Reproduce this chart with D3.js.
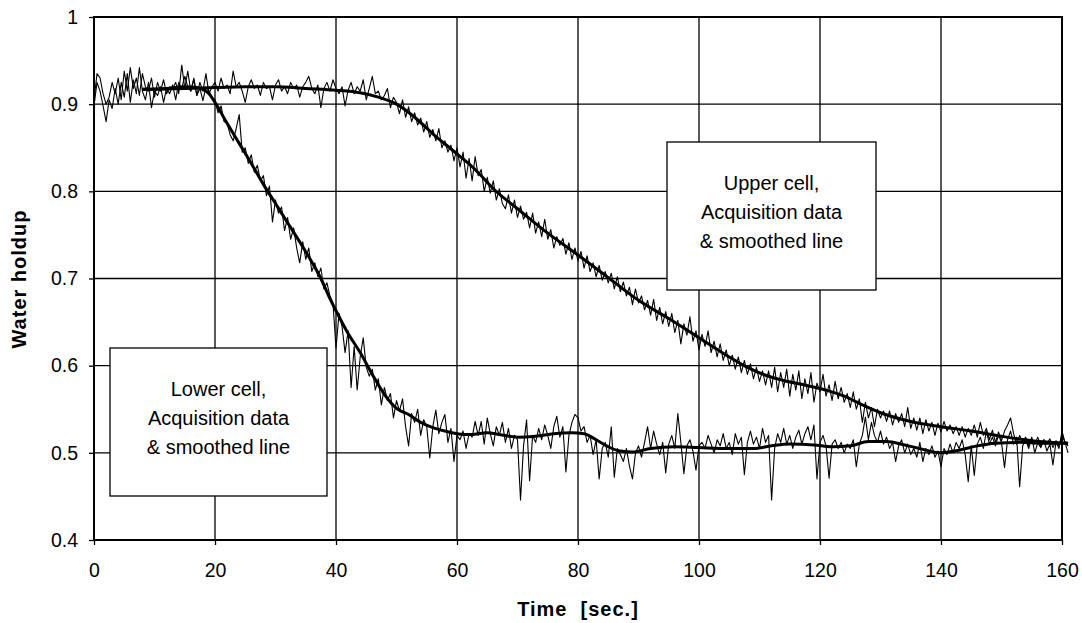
<!DOCTYPE html>
<html>
<head>
<meta charset="utf-8">
<script src="https://cdn.jsdelivr.net/npm/d3@7"></script>
<style>
  body { margin: 0; background: #fff; }
  text { font-family: "Liberation Sans", Arial, sans-serif; fill: #000; }
</style>
</head>
<body>
<div id="chart"></div>
<script>
// raw acquisition samples, every 0.5 s from 0 to 161 s (one row = 10 s)
const rawStep = 0.5;
const upperRaw = [
  0.905,0.935,0.930,0.912,0.900,0.908,0.925,0.912,0.930,0.905,0.938,0.915,0.942,0.918,0.930,0.910,0.935,0.920,0.915,0.930,
  0.908,0.925,0.915,0.928,0.912,0.920,0.918,0.925,0.912,0.945,0.918,0.938,0.915,0.930,0.910,0.925,0.915,0.935,0.912,0.920,
  0.925,0.915,0.930,0.918,0.922,0.912,0.938,0.920,0.925,0.915,0.902,0.920,0.928,0.918,0.922,0.910,0.925,0.918,0.920,0.905,
  0.922,0.928,0.915,0.920,0.912,0.925,0.918,0.922,0.908,0.920,0.925,0.932,0.918,0.912,0.922,0.896,0.918,0.925,0.915,0.928,
  0.918,0.912,0.920,0.898,0.916,0.925,0.912,0.920,0.915,0.928,0.905,0.918,0.932,0.912,0.915,0.905,0.910,0.918,0.896,0.908,
  0.902,0.889,0.905,0.885,0.897,0.880,0.890,0.876,0.884,0.868,0.880,0.862,0.871,0.858,0.872,0.850,0.858,0.845,0.853,0.835,
  0.850,0.828,0.845,0.815,0.838,0.812,0.840,0.818,0.825,0.800,0.816,0.798,0.812,0.790,0.803,0.786,0.780,0.796,0.775,0.790,
  0.770,0.783,0.768,0.776,0.758,0.775,0.752,0.765,0.748,0.768,0.745,0.756,0.735,0.748,0.738,0.746,0.728,0.741,0.722,0.735,
  0.720,0.731,0.712,0.726,0.708,0.718,0.702,0.715,0.698,0.708,0.695,0.706,0.688,0.702,0.685,0.696,0.680,0.690,0.670,0.688,
  0.672,0.680,0.664,0.675,0.658,0.676,0.652,0.667,0.648,0.662,0.645,0.660,0.638,0.652,0.625,0.648,0.635,0.656,0.628,0.640,
  0.618,0.636,0.622,0.640,0.615,0.628,0.610,0.625,0.606,0.618,0.600,0.612,0.596,0.610,0.592,0.606,0.590,0.602,0.585,0.598,
  0.582,0.594,0.578,0.594,0.575,0.598,0.570,0.592,0.575,0.596,0.565,0.590,0.572,0.594,0.562,0.585,0.568,0.592,0.558,0.580,
  0.570,0.590,0.565,0.578,0.560,0.582,0.562,0.575,0.558,0.568,0.552,0.570,0.550,0.562,0.535,0.558,0.540,0.552,0.530,0.550,
  0.540,0.548,0.536,0.548,0.532,0.545,0.535,0.545,0.530,0.552,0.528,0.540,0.526,0.540,0.522,0.538,0.525,0.535,0.520,0.534,
  0.524,0.536,0.525,0.532,0.522,0.530,0.520,0.530,0.518,0.528,0.520,0.532,0.518,0.535,0.520,0.528,0.515,0.526,0.512,0.524,
  0.514,0.525,0.532,0.540,0.522,0.510,0.520,0.512,0.518,0.508,0.516,0.510,0.518,0.508,0.515,0.510,0.516,0.506,0.514,0.508,
  0.520,0.512,0.508
];
const lowerRaw = [
  0.898,0.925,0.915,0.898,0.880,0.905,0.895,0.918,0.900,0.925,0.908,0.935,0.902,0.928,0.912,0.942,0.915,0.905,0.925,0.896,
  0.915,0.910,0.920,0.902,0.918,0.912,0.922,0.905,0.925,0.918,0.932,0.920,0.915,0.928,0.910,0.918,0.904,0.920,0.915,0.908,
  0.905,0.890,0.898,0.880,0.878,0.865,0.858,0.872,0.888,0.845,0.850,0.832,0.842,0.822,0.830,0.812,0.818,0.795,0.806,0.765,
  0.790,0.775,0.782,0.755,0.770,0.745,0.758,0.735,0.718,0.742,0.722,0.735,0.708,0.718,0.702,0.712,0.688,0.695,0.680,0.672,
  0.620,0.660,0.645,0.615,0.640,0.575,0.622,0.572,0.610,0.632,0.598,0.588,0.596,0.572,0.585,0.555,0.575,0.560,0.568,0.540,
  0.560,0.548,0.562,0.530,0.508,0.545,0.535,0.550,0.520,0.538,0.530,0.494,0.530,0.549,0.522,0.535,0.544,0.512,0.528,0.490,
  0.520,0.515,0.525,0.505,0.522,0.518,0.536,0.520,0.536,0.510,0.540,0.522,0.508,0.530,0.520,0.535,0.512,0.528,0.505,0.520,
  0.515,0.446,0.508,0.538,0.468,0.520,0.512,0.528,0.515,0.532,0.520,0.505,0.530,0.542,0.518,0.530,0.478,0.520,0.535,0.544,
  0.540,0.525,0.530,0.512,0.520,0.498,0.515,0.470,0.505,0.512,0.495,0.530,0.472,0.505,0.498,0.490,0.505,0.485,0.470,0.500,
  0.508,0.495,0.512,0.530,0.505,0.525,0.510,0.498,0.512,0.477,0.510,0.520,0.505,0.545,0.512,0.476,0.508,0.515,0.502,0.480,
  0.508,0.512,0.505,0.520,0.510,0.500,0.515,0.508,0.522,0.505,0.512,0.498,0.522,0.510,0.518,0.475,0.512,0.525,0.510,0.518,
  0.505,0.528,0.512,0.520,0.446,0.505,0.522,0.512,0.528,0.510,0.520,0.505,0.518,0.526,0.510,0.522,0.530,0.515,0.532,0.470,
  0.512,0.520,0.508,0.471,0.510,0.515,0.505,0.512,0.500,0.510,0.505,0.515,0.484,0.510,0.520,0.541,0.515,0.535,0.520,0.512,
  0.525,0.510,0.518,0.505,0.512,0.490,0.508,0.515,0.500,0.510,0.498,0.505,0.495,0.512,0.490,0.505,0.498,0.508,0.495,0.502,
  0.484,0.505,0.498,0.510,0.500,0.512,0.505,0.515,0.498,0.467,0.508,0.474,0.510,0.518,0.505,0.525,0.510,0.518,0.508,0.520,
  0.512,0.483,0.515,0.525,0.510,0.518,0.461,0.508,0.515,0.505,0.518,0.500,0.512,0.506,0.515,0.502,0.510,0.486,0.512,0.505,
  0.525,0.512,0.500
];

// smoothed lines
const upperSmoothT = [8,15,20,25,30,35,40,44,47,50,53,56,60,63,66,70,75,80,85,90,95,100,105,108,111,114,118,121,124,127,130,135,140,145,150,155,161];
const upperSmoothV = [0.917,0.918,0.919,0.920,0.920,0.918,0.916,0.913,0.908,0.900,0.885,0.866,0.843,0.825,0.803,0.780,0.752,0.727,0.701,0.675,0.654,0.632,0.610,0.598,0.589,0.583,0.577,0.572,0.565,0.555,0.546,0.536,0.530,0.525,0.519,0.514,0.511];
const lowerSmoothT = [8,12,15,17,19,20,22,24,26,28,30,32,34,36,37.5,39,40,42,44,46,48,50,52,54,56,58,60,62,65,67,70,73,76,79,81,83,85,87,89,92,96,100,105,109,112,115,119,122,125,128,131,134,137,140,143,146,149,153,157,161];
const lowerSmoothV = [0.917,0.918,0.920,0.919,0.912,0.902,0.878,0.855,0.832,0.808,0.786,0.764,0.742,0.719,0.700,0.677,0.663,0.637,0.615,0.590,0.567,0.551,0.544,0.535,0.529,0.525,0.522,0.521,0.523,0.521,0.518,0.519,0.522,0.523,0.522,0.515,0.507,0.502,0.501,0.505,0.507,0.506,0.505,0.505,0.508,0.510,0.509,0.507,0.508,0.513,0.513,0.509,0.504,0.500,0.503,0.508,0.511,0.512,0.511,0.511];

const xTicks = [0, 20, 40, 60, 80, 100, 120, 140, 160];
const yTicks = [0.4, 0.5, 0.6, 0.7, 0.8, 0.9, 1];
const upperLabel = ["Upper cell,", "Acquisition data", "& smoothed line"];
const lowerLabel = ["Lower cell,", "Acquisition data", "& smoothed line"];

const W = 1082, H = 623;
const margin = { top: 17, right: 20, bottom: 83, left: 94 };
const width = 968, height = 523;

const svg = d3.select("#chart").append("svg")
    .attr("width", W)
    .attr("height", H);

const g = svg.append("g")
    .attr("transform", `translate(${margin.left},${margin.top})`);

const x = d3.scaleLinear().domain([0, 160]).range([0, width]);
const y = d3.scaleLinear().domain([0.4, 1]).range([height, 0]);

// grid
g.append("g")
    .selectAll("line")
    .data(yTicks)
    .enter().append("line")
    .attr("x1", 0).attr("x2", width)
    .attr("y1", d => y(d)).attr("y2", d => y(d))
    .attr("stroke", "#000").attr("stroke-width", 1.3);

g.append("g")
    .selectAll("line")
    .data(xTicks)
    .enter().append("line")
    .attr("x1", d => x(d)).attr("x2", d => x(d))
    .attr("y1", 0).attr("y2", height)
    .attr("stroke", "#000").attr("stroke-width", 1.3);

// axes
const yAxis = g.append("g")
    .call(d3.axisLeft(y).tickValues(yTicks).tickFormat(d3.format("")).tickSize(5).tickPadding(11));
const xAxis = g.append("g")
    .attr("transform", `translate(0,${height})`)
    .call(d3.axisBottom(x).tickValues(xTicks).tickSize(5).tickPadding(18));

[xAxis, yAxis].forEach(a => {
    a.select(".domain").remove();
    a.selectAll("line").attr("stroke", "#000").attr("stroke-width", 1.3);
    a.selectAll("text").style("font-size", "19.5px").attr("fill", "#000");
});

// frame
g.append("rect")
    .attr("width", width).attr("height", height)
    .attr("fill", "none").attr("stroke", "#000").attr("stroke-width", 2);

// data
const rawLine = d3.line()
    .x((d, i) => x(i * rawStep))
    .y(d => y(d));

[upperRaw, lowerRaw].forEach(series => {
    g.append("path")
        .datum(series)
        .attr("fill", "none")
        .attr("stroke", "#000")
        .attr("stroke-width", 1.1)
        .attr("stroke-linejoin", "round")
        .attr("d", rawLine);
});

const smoothLine = d3.line()
    .x(d => x(d[0]))
    .y(d => y(d[1]))
    .curve(d3.curveMonotoneX);

[[upperSmoothT, upperSmoothV], [lowerSmoothT, lowerSmoothV]].forEach(([ts, vs]) => {
    g.append("path")
        .datum(d3.zip(ts, vs))
        .attr("fill", "none")
        .attr("stroke", "#000")
        .attr("stroke-width", 3)
        .attr("stroke-linejoin", "round")
        .attr("d", smoothLine);
});

// annotation boxes
function labelBox(x0, y0, bw, lines) {
    const bh = 148;
    const box = svg.append("g").attr("transform", `translate(${x0},${y0})`);
    box.append("rect")
        .attr("width", bw).attr("height", bh)
        .attr("fill", "#fff").attr("stroke", "#000").attr("stroke-width", 1.3);
    box.selectAll("text")
        .data(lines)
        .enter().append("text")
        .attr("x", bw / 2)
        .attr("y", (d, i) => 48 + i * 29)
        .attr("text-anchor", "middle")
        .style("font-size", "20px")
        .text(d => d);
}
labelBox(667, 142, 209, upperLabel);
labelBox(110, 348, 217, lowerLabel);

// axis titles
svg.append("text")
    .attr("x", margin.left + width / 2)
    .attr("y", 616)
    .attr("text-anchor", "middle")
    .style("font-size", "20px")
    .style("font-weight", "bold")
    .style("letter-spacing", "1px")
    .style("white-space", "pre")
    .text("Time  [sec.]");

svg.append("text")
    .attr("transform", "rotate(-90)")
    .attr("x", -279)
    .attr("y", 26)
    .attr("text-anchor", "middle")
    .style("font-size", "20px")
    .style("font-weight", "bold")
    .style("letter-spacing", "1px")
    .text("Water holdup");
</script>
</body>
</html>
